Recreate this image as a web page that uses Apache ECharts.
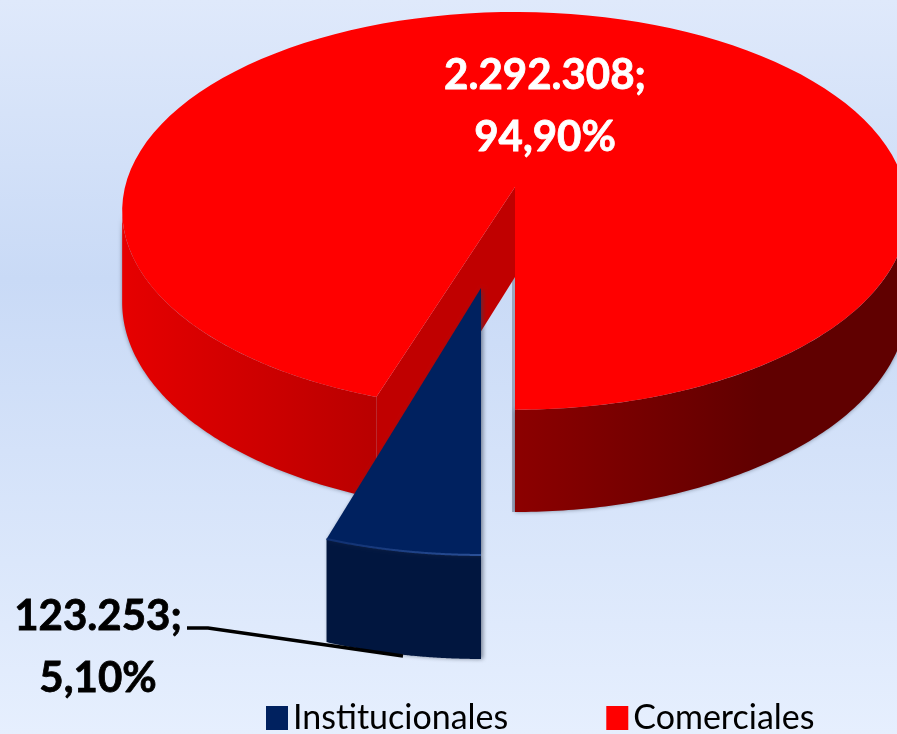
<!DOCTYPE html>
<html>
<head>
<meta charset="utf-8">
<style>
  html, body { margin: 0; padding: 0; }
  #myEcharts { width: 897px; height: 734px; }
</style>
<script src="https://cdn.jsdelivr.net/npm/echarts@6/dist/echarts.min.js"></script>
</head>
<body>
<div id="myEcharts"></div>
<script>
const categories = ['Institucionales', 'Comerciales']
const values = [123253, 2292308]

const total = values[0] + values[1]
const FONT = 'Lato, "Open Sans", sans-serif'
const cutAngle = values[0] / total * Math.PI * 2

// perspective of the disc: red sits at the centre, blue is pulled towards the viewer
const redDisc = { cx: 515, cy: 187, rx: 390, ry: 196, k: 0.12, shift: 0, depth: 90 }
const blueDisc = { cx: 481, cy: 187, rx: 390, ry: 196, k: 0.143, shift: 0.48, depth: 82 }

// angle 0 = towards the viewer, growing clockwise (to the left on screen)
function project(disc, t, r, down) {
  const u = -Math.sin(t) * r
  const v = Math.cos(t) * r + disc.shift
  const s = 1 / (1 - disc.k * v)
  return [disc.cx + disc.rx * u * s, disc.cy + disc.ry * v * s + (down ? disc.depth * s : 0)]
}

function arc(disc, from, to, down) {
  const pts = []
  const n = 120
  for (let i = 0; i <= n; i++) {
    pts.push(project(disc, from + (to - from) * i / n, 1, down))
  }
  return pts
}

function hGradient(x1, x2, c1, c2) {
  return new echarts.graphic.LinearGradient(x1, 0, x2, 0, [
    { offset: 0, color: c1 },
    { offset: 1, color: c2 }
  ], true)
}

function poly(points, fill, shadow) {
  return { type: 'polygon', shape: { points }, style: Object.assign({ fill }, shadow) }
}

function dataLabel(text, x, y, fill) {
  return {
    type: 'text',
    style: {
      text, x, y, fill,
      stroke: fill,
      lineWidth: 0.8,
      font: 'bold 42px ' + FONT,
      lineHeight: 62,
      align: 'center',
      verticalAlign: 'middle'
    }
  }
}

function formatLabel(val) {
  const pct = (val / total * 100).toFixed(2).replace('.', ',')
  return val.toString().replace(/\B(?=(\d{3})+$)/g, '.') + ';\n' + pct + '%'
}

function renderRed(params, api) {
  const d = redDisc
  const edge = Math.acos(d.k)
  const apexTop = project(d, 0, 0, false)
  const apexBottom = project(d, 0, 0, true)
  const cutTop = project(d, cutAngle, 1, false)
  const cutBottom = project(d, cutAngle, 1, true)
  const leftTop = arc(d, cutAngle, edge, false)
  const leftBottom = arc(d, cutAngle, edge, true).reverse()
  const rightTop = arc(d, -edge, 0, false)
  const rightBottom = arc(d, -edge, 0, true).reverse()
  const rim = arc(d, cutAngle, Math.PI * 2, false)
  const shadow = { shadowBlur: 4, shadowColor: 'rgba(50,60,80,0.55)' }
  return {
    type: 'group',
    children: [
      {
        type: 'polyline',
        shape: { points: [apexBottom, project(d, 0, 1, true)] },
        style: { fill: 'none', stroke: '#9aa6bd', lineWidth: 6 }
      },
      poly(leftTop.concat(leftBottom), hGradient(122, 380, '#e60000', '#b80000'), shadow),
      poly(rightTop.concat(rightBottom), hGradient(515, 760, '#8c0000', '#600000'), shadow),
      poly([apexTop, cutTop, cutBottom, apexBottom], '#c00000'),
      poly([apexTop].concat(rim), '#ff0000'),
      dataLabel(formatLabel(api.value(0)), 545, 106, '#ffffff')
    ]
  }
}

function renderBlue(params, api) {
  const d = blueDisc
  const top = arc(d, 0, cutAngle, false)
  const bottom = arc(d, 0, cutAngle, true).reverse()
  const shadow = { shadowBlur: 4, shadowOffsetX: 2, shadowColor: 'rgba(50,60,80,0.6)' }
  const leaderStart = [187, 628]
  const leaderBend = [208, 628]
  const leaderEnd = [403, 656]
  return {
    type: 'group',
    children: [
      poly(top.concat(bottom), '#01163f', shadow),
      poly([project(d, 0, 0, false)].concat(top), '#00215f', shadow),
      {
        type: 'polyline',
        shape: { points: top },
        style: { fill: 'none', stroke: hGradient(327, 481, '#0f2f70', '#2a5098'), lineWidth: 2 }
      },
      {
        type: 'polyline',
        shape: { points: [leaderStart, leaderBend, leaderEnd] },
        style: { fill: 'none', stroke: '#000000', lineWidth: 3.5 }
      },
      dataLabel(formatLabel(api.value(0)), 98, 647, '#000000')
    ]
  }
}

const myChart = echarts.init(document.getElementById('myEcharts'))
myChart.setOption({
  animation: false,
  backgroundColor: new echarts.graphic.LinearGradient(0, 0, 0, 1, [
    { offset: 0, color: '#dfe9fb' },
    { offset: 0.38, color: '#c9daf6' },
    { offset: 1, color: '#e6effe' }
  ]),
  legend: {
    data: categories,
    left: 261,
    top: 696,
    icon: 'rect',
    itemWidth: 22,
    itemHeight: 24,
    itemGap: 98,
    textStyle: { fontFamily: FONT, fontSize: 34, color: '#000000' }
  },
  series: [
    {
      type: 'custom',
      name: categories[1],
      coordinateSystem: 'none',
      silent: true,
      itemStyle: { color: '#ff0000' },
      renderItem: renderRed,
      data: [values[1]]
    },
    {
      type: 'custom',
      name: categories[0],
      coordinateSystem: 'none',
      silent: true,
      itemStyle: { color: '#00215f' },
      renderItem: renderBlue,
      data: [values[0]]
    }
  ]
})
</script>
</body>
</html>
